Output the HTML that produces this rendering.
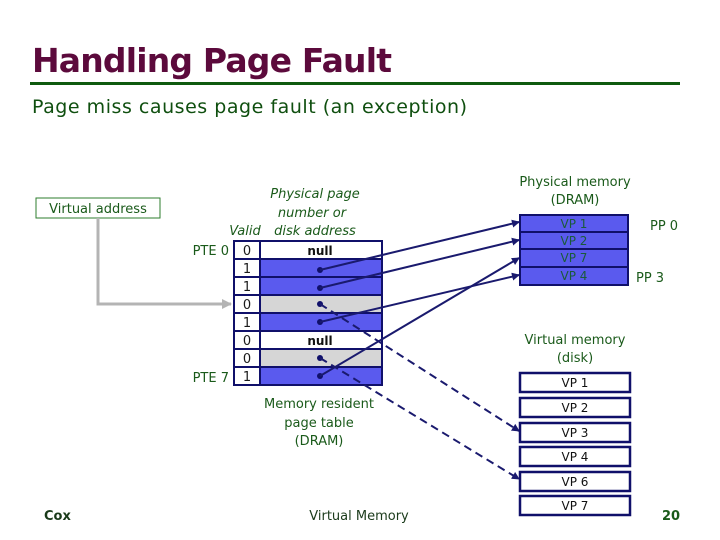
<!DOCTYPE html>
<html><head><meta charset="utf-8"><style>
body{margin:0;background:#fff}
svg{display:block}
text{font-family:"DejaVu Sans","Liberation Sans",sans-serif}
</style></head><body>
<svg width="720" height="540" xmlns="http://www.w3.org/2000/svg">
<defs>
<marker id="ah" markerWidth="8" markerHeight="8" refX="7" refY="4" orient="auto" markerUnits="userSpaceOnUse"><path d="M0,0L8,4L0,8z" fill="#1a1a6e"/></marker>
<marker id="ag" markerWidth="10" markerHeight="10" refX="9" refY="5" orient="auto" markerUnits="userSpaceOnUse"><path d="M0,0L10,5L0,10z" fill="#b4b4b4"/></marker>
</defs>
<text x="32" y="72" font-size="33" font-weight="bold" fill="#5c0a3c" textLength="360">Handling Page Fault</text>
<rect x="30" y="82" width="650" height="3" fill="#0f5a0f"/>
<text x="32" y="113" font-size="19" fill="#0f4f0f" textLength="435">Page miss causes page fault (an exception)</text>

<rect x="36" y="198" width="124" height="20" fill="#fff" stroke="#2e7d2e" stroke-width="1"/>
<text x="98" y="213" font-size="13" fill="#1a5a1a" text-anchor="middle">Virtual address</text>
<polyline points="98,218 98,304 231,304" fill="none" stroke="#b4b4b4" stroke-width="3" marker-end="url(#ag)"/>

<g font-size="13" fill="#1a5a1a" font-style="italic" text-anchor="middle">
<text x="315" y="198">Physical page</text>
<text x="312" y="217">number or</text>
<text x="315" y="235">disk address</text>
<text x="245" y="235">Valid</text>
</g>
<g font-size="13" fill="#1a5a1a" text-anchor="end">
<text x="229" y="255">PTE 0</text>
<text x="229" y="382">PTE 7</text>
</g>

<g stroke="#10106a" stroke-width="2">
<rect x="234" y="241" width="148" height="144" fill="#fff"/>
<rect x="260" y="259" width="122" height="18" fill="#5a5aee"/>
<rect x="260" y="277" width="122" height="18" fill="#5a5aee"/>
<rect x="260" y="295" width="122" height="18" fill="#d6d6d6"/>
<rect x="260" y="313" width="122" height="18" fill="#5a5aee"/>
<rect x="260" y="349" width="122" height="18" fill="#d6d6d6"/>
<rect x="260" y="367" width="122" height="18" fill="#5a5aee"/>
<line x1="260" y1="241" x2="260" y2="385"/>
<line x1="234" y1="259" x2="260" y2="259"/><line x1="234" y1="277" x2="260" y2="277"/>
<line x1="234" y1="295" x2="260" y2="295"/><line x1="234" y1="313" x2="260" y2="313"/>
<line x1="234" y1="331" x2="382" y2="331"/><line x1="234" y1="349" x2="260" y2="349"/>
<line x1="234" y1="367" x2="260" y2="367"/>
</g>
<g font-size="13" fill="#1a1a1a" text-anchor="middle" font-family="Liberation Serif">
<text x="247" y="255">0</text><text x="247" y="273">1</text><text x="247" y="291">1</text><text x="247" y="309">0</text>
<text x="247" y="327">1</text><text x="247" y="345">0</text><text x="247" y="363">0</text><text x="247" y="381">1</text>
</g>
<g font-size="12" fill="#111" text-anchor="middle" font-weight="bold">
<text x="320" y="255">null</text><text x="320" y="345">null</text>
</g>

<g fill="#10106a">
<circle cx="320" cy="270" r="3"/><circle cx="320" cy="288" r="3"/><circle cx="320" cy="304" r="3"/>
<circle cx="320" cy="322" r="3"/><circle cx="320" cy="358" r="3"/><circle cx="320" cy="376" r="3"/>
</g>
<g stroke="#1a1a6e" stroke-width="2" fill="none" marker-end="url(#ah)">
<line x1="320" y1="270" x2="519" y2="222"/>
<line x1="320" y1="288" x2="519" y2="240"/>
<line x1="320" y1="322" x2="519" y2="275"/>
<line x1="320" y1="376" x2="519" y2="258"/>
<line x1="320" y1="304" x2="519" y2="431" stroke-dasharray="8,5"/>
<line x1="320" y1="358" x2="519" y2="479" stroke-dasharray="8,5"/>
</g>

<g font-size="13" fill="#1a5a1a" text-anchor="middle">
<text x="575" y="186">Physical memory</text>
<text x="575" y="204">(DRAM)</text>
<text x="575" y="344">Virtual memory</text>
<text x="575" y="362">(disk)</text>
<text x="319" y="408">Memory resident</text>
<text x="319" y="427">page table</text>
<text x="319" y="445">(DRAM)</text>
<text x="650" y="230" text-anchor="start">PP 0</text>
<text x="636" y="282" text-anchor="start">PP 3</text>
</g>

<g stroke="#10106a" stroke-width="2" fill="#5a5aee">
<rect x="520" y="215" width="108" height="17"/>
<rect x="520" y="232" width="108" height="17"/>
<rect x="520" y="249" width="108" height="18"/>
<rect x="520" y="267" width="108" height="18"/>
</g>
<g font-size="12" fill="#1a5a3a" text-anchor="middle">
<text x="574" y="228">VP 1</text><text x="574" y="245">VP 2</text><text x="574" y="262">VP 7</text><text x="574" y="280">VP 4</text>
</g>
<g stroke="#10106a" stroke-width="2.5" fill="#fff">
<rect x="520" y="373" width="110" height="19"/>
<rect x="520" y="398" width="110" height="19"/>
<rect x="520" y="423" width="110" height="19"/>
<rect x="520" y="447" width="110" height="19"/>
<rect x="520" y="472" width="110" height="19"/>
<rect x="520" y="496" width="110" height="19"/>
</g>
<g font-size="12" fill="#111" text-anchor="middle">
<text x="575" y="387">VP 1</text><text x="575" y="412">VP 2</text><text x="575" y="437">VP 3</text>
<text x="575" y="461">VP 4</text><text x="575" y="486">VP 6</text><text x="575" y="510">VP 7</text>
</g>

<g font-size="13" font-weight="bold" font-family="Liberation Sans">
<text x="44" y="520" fill="#1a3a1a">Cox</text>
<text x="359" y="520" fill="#1a3a1a" text-anchor="middle" font-weight="normal">Virtual Memory</text>
<text x="662" y="520" fill="#1a5a1a">20</text>
</g>
</svg>
</body></html>
